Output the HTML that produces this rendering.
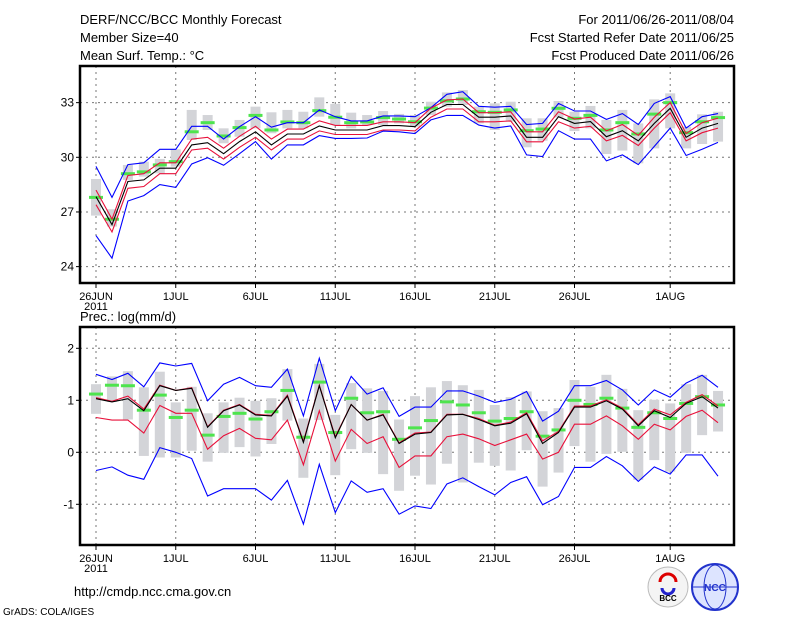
<!DOCTYPE html>
<html><head><meta charset="utf-8"><style>
html,body{margin:0;padding:0;background:#fff;}
svg{display:block;font-family:"Liberation Sans",sans-serif;}
</style></head><body>
<svg id="chart" width="800" height="618" viewBox="0 0 800 618" xmlns="http://www.w3.org/2000/svg">
<rect width="800" height="618" fill="#fff"/>
<g font-size="13" fill="#000">
<text x="80" y="24">DERF/NCC/BCC Monthly Forecast</text>
<text x="80" y="42">Member Size=40</text>
<text x="80" y="60">Mean Surf. Temp.: °C</text>
<text x="734" y="24" text-anchor="end">For 2011/06/26-2011/08/04</text>
<text x="734" y="42" text-anchor="end">Fcst Started Refer Date 2011/06/25</text>
<text x="734" y="60" text-anchor="end">Fcst Produced Date 2011/06/26</text>
<text x="80" y="321">Prec.: log(mm/d)</text>
<text x="74" y="596">http://cmdp.ncc.cma.gov.cn</text>
<text x="3" y="615" font-size="10">GrADS: COLA/IGES</text>
</g>
<g id="top"></g>
<g id="bot"></g>
<g>
<circle cx="668" cy="587" r="20" fill="#f4f4f4" stroke="#bbb"/>
<path d="M660 582 a8 8 0 1 1 16 0" fill="none" stroke="#d00" stroke-width="3"/>
<path d="M662 588 a6 6 0 1 0 12 0" fill="none" stroke="#22c" stroke-width="3"/>
<text x="668" y="601" font-size="8" text-anchor="middle" font-weight="bold">BCC</text>
</g>
<g>
<circle cx="715" cy="587" r="23" fill="#dde4ff" stroke="#23c" stroke-width="2"/>
<ellipse cx="715" cy="587" rx="11" ry="22" fill="none" stroke="#23c"/>
<line x1="693" y1="587" x2="737" y2="587" stroke="#23c"/>
<text x="715" y="591" font-size="10" text-anchor="middle" font-weight="bold" fill="#23c">NCC</text>
</g>
</svg>
<script>
const days = 40;
const tickLabels = ["26JUN","1JUL","6JUL","11JUL","16JUL","21JUL","26JUL","1AUG"];
const tickDays = [0,5,10,15,20,25,30,36];
const tTicks = [24,27,30,33];
const pTicks = [-1,0,1,2];
const tBlack = [27.84,26.3,28.67,28.76,29.4,29.4,30.68,30.8,30.2,30.86,31.4,30.68,31.28,31.28,31.72,31.5,31.5,31.5,31.74,31.74,31.68,32.47,32.9,32.9,32.2,32.2,32.27,31.1,31.1,32.23,31.86,31.96,31.13,31.46,30.9,31.86,32.69,31.1,31.6,31.86];
const tRedHi = [28.2,26.6,29.0,29.1,29.7,29.7,31.0,31.1,30.5,31.15,31.7,31.0,31.55,31.55,32.0,31.75,31.75,31.75,31.95,31.95,31.9,32.7,33.15,33.2,32.45,32.45,32.5,31.4,31.4,32.5,32.1,32.2,31.45,31.8,31.2,32.2,33.0,31.3,31.9,32.15];
const tRedLo = [27.4,25.9,28.3,28.4,29.1,29.1,30.4,30.5,29.9,30.55,31.1,30.4,31.0,31.0,31.45,31.25,31.25,31.25,31.5,31.5,31.45,32.2,32.65,32.65,31.95,31.95,32.0,30.85,30.85,31.95,31.6,31.7,30.9,31.2,30.65,31.6,32.45,30.9,31.35,31.6];
const tBlueHi = [29.5,27.8,29.6,29.7,30.44,30.44,31.7,31.7,31.0,31.68,32.23,31.65,31.9,31.9,32.6,32.23,32.0,32.0,32.27,32.27,32.23,32.72,33.46,33.6,32.8,32.75,32.8,31.8,31.86,32.96,32.54,32.54,32.08,32.4,31.8,32.96,33.33,31.6,32.23,32.4];
const tBlueLo = [25.7,24.46,27.6,27.9,28.5,28.35,29.63,29.98,29.56,30.2,30.86,29.9,30.68,30.68,31.19,31.04,31.04,31.06,31.44,31.4,31.3,32.05,32.3,32.3,31.77,31.6,31.72,30.13,30.04,31.46,31.0,31.0,29.8,30.13,29.6,30.6,31.6,30.1,30.44,30.82];
const tGreen = [27.8,26.6,29.1,29.2,29.58,29.76,31.4,31.9,31.17,31.63,32.3,31.5,31.94,31.9,32.56,32.2,31.9,31.94,32.18,32.1,31.95,32.7,33.1,33.2,32.5,32.47,32.6,31.46,31.55,32.69,32.14,32.3,31.5,31.9,31.28,32.37,33.0,31.35,31.95,32.18];
const tBoxHi = [28.81,27.15,29.58,29.76,29.91,30.44,32.6,32.32,31.59,32.05,32.78,32.47,32.6,32.5,33.29,32.93,32.45,32.32,32.54,32.38,32.32,33.05,33.56,33.69,32.78,32.96,33.05,32.14,32.14,33.09,32.5,32.82,32.05,32.6,31.86,33.18,33.51,31.68,32.36,32.5];
const tBoxLo = [26.8,26.2,28.76,28.94,29.12,29.49,30.95,31.5,30.77,31.13,31.59,31.32,31.59,31.59,32.23,31.77,31.59,31.77,31.77,31.86,31.68,32.32,32.78,32.87,31.86,31.5,31.96,30.55,30.91,32.19,31.44,31.59,30.18,30.37,29.67,30.49,31.59,30.49,30.73,30.86];
const pBlack = [1.03,0.97,1.03,0.8,1.28,1.19,1.23,0.48,0.8,0.91,0.72,0.7,1.08,0.19,1.28,0.28,0.92,0.62,0.72,0.17,0.35,0.38,0.72,0.73,0.63,0.51,0.56,0.74,0.17,0.38,0.87,0.87,0.99,0.83,0.51,0.8,0.67,0.94,1.07,0.85];
const pRedHi = [1.05,0.98,1.08,0.83,1.29,1.19,1.24,0.49,0.81,0.92,0.73,0.71,1.1,0.21,1.29,0.3,0.92,0.62,0.73,0.18,0.37,0.39,0.73,0.73,0.65,0.52,0.58,0.76,0.22,0.4,0.89,0.89,1.01,0.85,0.53,0.83,0.72,0.96,1.11,0.89];
const pRedLo = [0.67,0.62,0.62,0.37,0.9,0.75,0.75,0.06,0.32,0.46,0.27,0.24,0.62,-0.24,0.8,-0.17,0.44,0.17,0.3,-0.29,-0.07,-0.07,0.3,0.35,0.26,0.13,0.24,0.35,-0.13,0.0,0.54,0.54,0.7,0.51,0.25,0.54,0.43,0.69,0.81,0.57];
const pBlueHi = [1.5,1.4,1.52,1.26,1.72,1.66,1.71,0.99,1.31,1.44,1.28,1.25,1.6,0.7,1.81,0.8,1.46,1.12,1.24,0.69,0.87,0.87,1.18,1.18,1.08,0.96,1.02,1.17,0.6,0.79,1.28,1.28,1.38,1.2,0.91,1.2,1.06,1.33,1.48,1.25];
const pBlueLo = [-0.35,-0.28,-0.44,-0.52,0.09,0.0,-0.12,-0.84,-0.7,-0.7,-0.7,-0.92,-0.54,-1.38,-0.23,-1.16,-0.55,-0.77,-0.7,-1.19,-1.03,-1.08,-0.61,-0.49,-0.66,-0.82,-0.58,-0.47,-1.01,-0.85,-0.29,-0.29,-0.08,-0.26,-0.56,-0.28,-0.42,-0.05,-0.05,-0.46];
const pGreen = [1.12,1.29,1.28,0.81,1.1,0.67,0.81,0.33,0.69,0.75,0.64,0.78,1.19,0.29,1.35,0.38,1.04,0.76,0.78,0.25,0.47,0.61,0.97,0.91,0.76,0.6,0.65,0.78,0.31,0.43,1.0,0.92,1.04,0.85,0.48,0.76,0.65,0.94,1.07,0.91];
const pBoxHi = [1.31,1.46,1.56,1.25,1.55,0.96,1.26,0.75,0.96,1.05,0.99,1.04,1.6,0.65,1.7,0.72,1.33,1.23,1.18,0.63,1.08,1.25,1.37,1.29,1.2,0.91,1.06,1.17,0.79,0.85,1.39,1.26,1.49,1.22,0.81,1.01,0.94,1.31,1.49,1.18];
const pBoxLo = [0.74,0.97,0.63,-0.07,-0.1,-0.1,0.03,-0.18,-0.01,0.1,-0.08,0.16,0.61,-0.49,0.62,-0.44,0.06,-0.01,-0.42,-0.74,-0.45,-0.62,-0.22,-0.58,-0.2,-0.26,-0.35,0.04,-0.66,-0.39,0.12,-0.18,-0.03,0.01,-0.53,-0.15,-0.37,-0.01,0.33,0.4];

const NS = "http://www.w3.org/2000/svg";
const X0 = 80, X1 = 734;
function xs(d){ return 96 + d * 15.95; }
function mk(parent, tag, attrs){ const e = document.createElementNS(NS, tag); for (const k in attrs) e.setAttribute(k, attrs[k]); parent.appendChild(e); return e; }

function panel(g, top, bottom, ys, ticks, series, prefix){
  // grid
  ticks.forEach(t => {
    const l = mk(g, "line", {x1:X0, x2:X1, y1:ys(t), y2:ys(t), stroke:"#777", "stroke-dasharray":"2,4", "stroke-width":1});
    
    
    const tk = mk(g, "line", {x1:X0-4, x2:X0, y1:ys(t), y2:ys(t), stroke:"#000"});
    
    
    const tx = mk(g, "text", {x:X0-6, y:ys(t)+4, "text-anchor":"end", "font-size":12});
    tx.textContent = String(t);
    
    
  });
  tickDays.forEach((d, i) => {
    const l = mk(g, "line", {x1:xs(d), x2:xs(d), y1:top, y2:bottom, stroke:"#777", "stroke-dasharray":"2,4"});
    
    
    const tk = mk(g, "line", {x1:xs(d), x2:xs(d), y1:bottom, y2:bottom+5, stroke:"#000"});
    
    
    const tx = mk(g, "text", {x:xs(d), y:bottom+17, "text-anchor":"middle", "font-size":11});
    tx.textContent = tickLabels[i];
    
    
  });
  const yr = mk(g, "text", {x:xs(0), y:bottom+27, "text-anchor":"middle", "font-size":11});
  yr.textContent = "2011";
  
  
  // boxes
  for (let d = 0; d < days; d++){
    const y1 = ys(series.boxHi[d]), y2 = ys(series.boxLo[d]);
    const r = mk(g, "rect", {x:xs(d)-5, y:Math.min(y1,y2), width:10, height:Math.abs(y2-y1), fill:"#d3d4d8"});
    
    
  }
  for (let d = 0; d < days; d++){
    const r = mk(g, "rect", {x:xs(d)-7, y:ys(series.green[d])-1.5, width:14, height:3, fill:"#4ee44e"});
    
    
  }
  const lines = [[series.blueHi,"#0000ff","blue-upper-line"],[series.blueLo,"#0000ff","blue-lower-line"],[series.redHi,"#e8103a","red-upper-line"],[series.redLo,"#e8103a","red-lower-line"],[series.black,"#000","ensemble-mean-line"]];
  lines.forEach(([arr, col, nm]) => {
    const p = mk(g, "polyline", {points: arr.map((v,d)=>xs(d).toFixed(1)+","+ys(v).toFixed(1)).join(" "), fill:"none", stroke:col, "stroke-width":1.1});
    
    
  });
  const f = mk(g, "rect", {x:X0, y:top, width:X1-X0, height:bottom-top, fill:"none", stroke:"#000", "stroke-width":2.5});
  
  
}
panel(document.getElementById("top"), 66, 283, v => 157.3 - (v-30)*18.22, tTicks,
  {black:tBlack, redHi:tRedHi, redLo:tRedLo, blueHi:tBlueHi, blueLo:tBlueLo, green:tGreen, boxHi:tBoxHi, boxLo:tBoxLo}, "temp");
panel(document.getElementById("bot"), 327, 545, v => 452.3 - v*52, pTicks,
  {black:pBlack, redHi:pRedHi, redLo:pRedLo, blueHi:pBlueHi, blueLo:pBlueLo, green:pGreen, boxHi:pBoxHi, boxLo:pBoxLo}, "prec");
</script>
</body></html>
